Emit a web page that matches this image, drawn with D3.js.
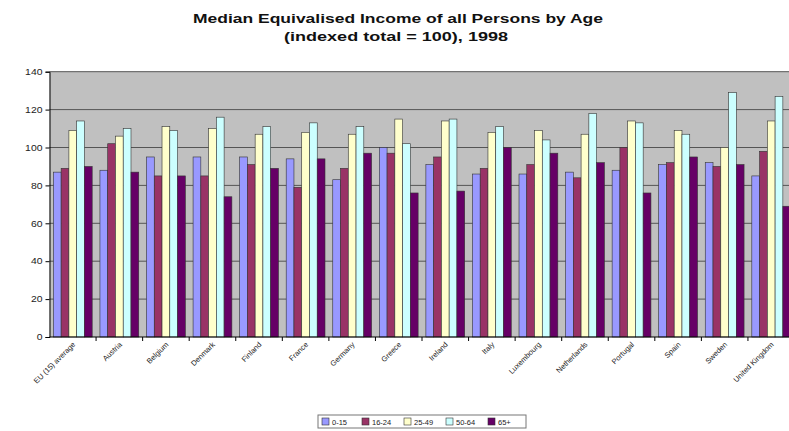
<!DOCTYPE html>
<html>
<head>
<meta charset="utf-8">
<script src="https://cdn.jsdelivr.net/npm/d3@7"></script>
<style>
  html, body { margin: 0; padding: 0; background: #fff; }
  svg { display: block; font-family: Arial, "Liberation Sans", sans-serif; }
</style>
</head>
<body>
<svg id="chart" width="789" height="431"></svg>
<script>
// Countries along the category axis
const countries = ["EU (15) average", "Austria", "Belgium", "Denmark", "Finland", "France",
  "Germany", "Greece", "Ireland", "Italy", "Luxembourg", "Netherlands", "Portugal",
  "Spain", "Sweden", "United Kingdom"];

// Age groups (series)
const ageGroups = ["0-15", "16-24", "25-49", "50-64", "65+"];

// Median equivalised income, indexed total = 100, one array per age group
const age0to15  = [87, 88, 95, 95, 95, 94, 83, 100, 91, 86, 86, 87, 88, 91, 92, 85];
const age16to24 = [89, 102, 85, 85, 91, 79, 89, 97, 95, 89, 91, 84, 100, 92, 90, 98];
const age25to49 = [109, 106, 111, 110, 107, 108, 107, 115, 114, 108, 109, 107, 114, 109, 100, 114];
const age50to64 = [114, 110, 109, 116, 111, 113, 111, 102, 115, 111, 104, 118, 113, 107, 129, 127];
const age65plus = [90, 87, 85, 74, 89, 94, 97, 76, 77, 100, 97, 92, 76, 95, 91, 69];

const seriesValues = [age0to15, age16to24, age25to49, age50to64, age65plus];
const seriesColors = ["#9999FF", "#993366", "#FFFFCC", "#CCFFFF", "#660066"];

const yTicks = [0, 20, 40, 60, 80, 100, 120, 140];

const svg = d3.select("#chart");

const plot = { left: 49.5, right: 794.5, top: 71.7, bottom: 337 };

const x0 = d3.scaleBand().domain(countries).range([plot.left, plot.right]).paddingInner(0).paddingOuter(0);
const x1 = d3.scaleBand().domain(ageGroups).range([0, x0.bandwidth()]).paddingInner(0).paddingOuter(0.5);
const y = d3.scaleLinear().domain([0, 140]).range([plot.bottom, plot.top]);

// Title (wide, horizontally stretched lettering)
const title = svg.append("g").attr("font-weight", "bold").attr("font-size", 13.5).attr("fill", "#111").attr("text-anchor", "middle");
title.append("text").attr("x", 398).attr("y", 23)
  .attr("textLength", 410).attr("lengthAdjust", "spacingAndGlyphs")
  .text("Median Equivalised Income of all Persons by Age");
title.append("text").attr("x", 396).attr("y", 41)
  .attr("textLength", 224).attr("lengthAdjust", "spacingAndGlyphs")
  .text("(indexed total = 100), 1998");

// Plot background
svg.append("rect")
  .attr("x", plot.left).attr("y", plot.top)
  .attr("width", plot.right - plot.left).attr("height", plot.bottom - plot.top)
  .attr("fill", "#C0C0C0");

// Horizontal gridlines
svg.append("g").selectAll("line").data(yTicks.filter(d => d > 0)).join("line")
  .attr("x1", plot.left).attr("x2", plot.right)
  .attr("y1", d => y(d)).attr("y2", d => y(d))
  .attr("stroke", "#555").attr("stroke-width", 1);

// Bars
const groups = svg.append("g").selectAll("g").data(countries).join("g")
  .attr("transform", d => `translate(${x0(d)},0)`);

groups.selectAll("rect")
  .data((c, i) => ageGroups.map((a, s) => ({ age: a, value: seriesValues[s][i], color: seriesColors[s] })))
  .join("rect")
  .attr("x", d => x1(d.age))
  .attr("y", d => y(d.value))
  .attr("width", x1.bandwidth())
  .attr("height", d => y(0) - y(d.value))
  .attr("fill", d => d.color)
  .attr("stroke", "#333")
  .attr("stroke-width", 0.6);

// Y axis
const yAxis = svg.append("g")
  .attr("transform", `translate(${plot.left},0)`)
  .call(d3.axisLeft(y).tickValues(yTicks).tickSize(4).tickPadding(3));
yAxis.select(".domain").attr("stroke", "#000");
yAxis.selectAll("text").attr("font-size", 8.5).attr("fill", "#222")
  .attr("textLength", d => String(d).length * 5.8).attr("lengthAdjust", "spacingAndGlyphs");

// X axis with ticks at category boundaries
const xAxisG = svg.append("g").attr("transform", `translate(0,${plot.bottom})`);
xAxisG.append("line").attr("x1", plot.left).attr("x2", plot.right).attr("stroke", "#000");
xAxisG.selectAll("line.tick").data(countries).join("line")
  .attr("class", "tick")
  .attr("x1", d => x0(d) + x0.bandwidth()).attr("x2", d => x0(d) + x0.bandwidth())
  .attr("y1", 0).attr("y2", 4).attr("stroke", "#000");
xAxisG.selectAll("text").data(countries).join("text")
  .attr("transform", d => `translate(${x0(d) + x0.bandwidth() / 2 + 3},${8}) rotate(-45)`)
  .attr("text-anchor", "end")
  .attr("font-size", 7.5)
  .attr("fill", "#222")
  .text(d => d);

// Legend
const legend = svg.append("g").attr("transform", "translate(318,415)");
legend.append("rect").attr("x", 0).attr("y", 0).attr("width", 208).attr("height", 13)
  .attr("fill", "#fff").attr("stroke", "#777").attr("stroke-width", 1);
const itemX = [4, 44, 86, 128, 170];
const items = legend.selectAll("g").data(ageGroups).join("g")
  .attr("transform", (d, i) => `translate(${itemX[i]},0)`);
items.append("rect").attr("x", 0).attr("y", 3).attr("width", 7).attr("height", 7)
  .attr("fill", (d, i) => seriesColors[i]).attr("stroke", "#333").attr("stroke-width", 0.6);
items.append("text").attr("x", 10).attr("y", 9.5).attr("font-size", 7.5).attr("fill", "#222").text(d => d);
</script>
</body>
</html>
